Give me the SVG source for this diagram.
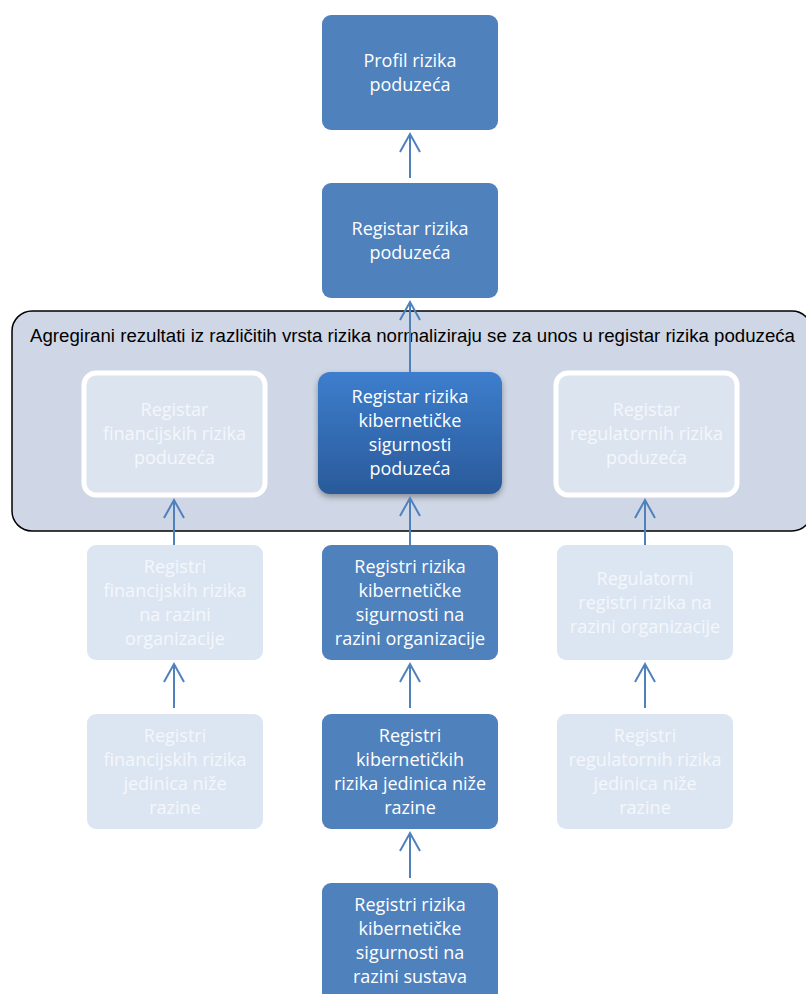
<svg xmlns="http://www.w3.org/2000/svg" width="806" height="994" viewBox="0 0 806 994">
<defs>
<style>
.solid{fill:#4F81BD}
.faded{fill:#DCE6F2}
.t{font-family:"Open Sans","Noto Sans",sans-serif;font-size:18px;text-anchor:middle;fill:#FFFFFF}
.tf{font-family:"Open Sans","Noto Sans",sans-serif;font-size:18px;text-anchor:middle;fill:#F4F7FB}
.c{stroke:#4F81BD;stroke-width:2;fill:none;marker-end:url(#ah)}
</style>
<marker id="ah" markerUnits="userSpaceOnUse" markerWidth="24" markerHeight="24" viewBox="-20 -12 24 24" refX="0" refY="0" orient="auto">
<path d="M-18,-10 L0,0 L-18,10" fill="none" stroke="#4F81BD" stroke-width="2"/>
</marker>
<linearGradient id="g" x1="0" y1="0" x2="0" y2="1">
<stop offset="0" stop-color="#3D7ECD"/>
<stop offset="1" stop-color="#2A5A9A"/>
</linearGradient>
<filter id="sh" x="-20%" y="-20%" width="140%" height="150%">
<feDropShadow dx="0" dy="3" stdDeviation="3" flood-color="#000" flood-opacity="0.35"/>
</filter>
</defs>
<rect width="806" height="994" fill="#FFFFFF"/>

<g id="container">
<rect x="12" y="311" width="800" height="220" rx="20" fill="#CFD7E6" stroke="#000" stroke-width="1.5"/>
<text x="30" y="342" font-family="Liberation Sans, Arial, sans-serif" font-size="18" textLength="765" lengthAdjust="spacingAndGlyphs" fill="#000">Agregirani rezultati iz različitih vrsta rizika normaliziraju se za unos u registar rizika poduzeća</text>
</g>

<g id="profil">
<rect class="solid" x="322" y="15" width="176" height="115" rx="9"/>
<text class="t" x="410" y="67">Profil rizika</text>
<text class="t" x="410" y="91">poduzeća</text>
</g>

<g id="registar">
<rect class="solid" x="322" y="183" width="176" height="115" rx="9"/>
<text class="t" x="410" y="235">Registar rizika</text>
<text class="t" x="410" y="259">poduzeća</text>
</g>

<g id="fin-poduzeca">
<rect x="84" y="373" width="181" height="122" rx="12" fill="#DCE4F0" stroke="#FFFFFF" stroke-width="5"/>
<text class="tf" x="174.5" y="416">Registar</text>
<text class="tf" x="174.5" y="440">financijskih rizika</text>
<text class="tf" x="174.5" y="464">poduzeća</text>
</g>

<g id="kib-poduzeca">
<rect x="318" y="372" width="184" height="122" rx="12" fill="url(#g)" filter="url(#sh)"/>
<text class="t" x="410" y="403">Registar rizika</text>
<text class="t" x="410" y="427">kibernetičke</text>
<text class="t" x="410" y="451">sigurnosti</text>
<text class="t" x="410" y="475">poduzeća</text>
</g>

<g id="reg-poduzeca">
<rect x="556" y="373" width="181" height="122" rx="12" fill="#DCE4F0" stroke="#FFFFFF" stroke-width="5"/>
<text class="tf" x="646.5" y="416">Registar</text>
<text class="tf" x="646.5" y="440">regulatornih rizika</text>
<text class="tf" x="646.5" y="464">poduzeća</text>
</g>

<g id="fin-org">
<rect class="faded" x="87" y="545" width="176" height="115" rx="9"/>
<text class="tf" x="175" y="573">Registri</text>
<text class="tf" x="175" y="597">financijskih rizika</text>
<text class="tf" x="175" y="621">na razini</text>
<text class="tf" x="175" y="645">organizacije</text>
</g>

<g id="kib-org">
<rect class="solid" x="322" y="545" width="176" height="115" rx="9"/>
<text class="t" x="410" y="573">Registri rizika</text>
<text class="t" x="410" y="597">kibernetičke</text>
<text class="t" x="410" y="621">sigurnosti na</text>
<text class="t" x="410" y="645">razini organizacije</text>
</g>

<g id="reg-org">
<rect class="faded" x="557" y="545" width="176" height="115" rx="9"/>
<text class="tf" x="645" y="585">Regulatorni</text>
<text class="tf" x="645" y="609">registri rizika na</text>
<text class="tf" x="645" y="633">razini organizacije</text>
</g>

<g id="fin-jed">
<rect class="faded" x="87" y="714" width="176" height="115" rx="9"/>
<text class="tf" x="175" y="742">Registri</text>
<text class="tf" x="175" y="766">financijskih rizika</text>
<text class="tf" x="175" y="790">jedinica niže</text>
<text class="tf" x="175" y="814">razine</text>
</g>

<g id="kib-jed">
<rect class="solid" x="322" y="714" width="176" height="115" rx="9"/>
<text class="t" x="410" y="742">Registri</text>
<text class="t" x="410" y="766">kibernetičkih</text>
<text class="t" x="410" y="790">rizika jedinica niže</text>
<text class="t" x="410" y="814">razine</text>
</g>

<g id="reg-jed">
<rect class="faded" x="557" y="714" width="176" height="115" rx="9"/>
<text class="tf" x="645" y="742">Registri</text>
<text class="tf" x="645" y="766">regulatornih rizika</text>
<text class="tf" x="645" y="790">jedinica niže</text>
<text class="tf" x="645" y="814">razine</text>
</g>

<g id="kib-sustav">
<rect class="solid" x="322" y="883" width="176" height="120" rx="9"/>
<text class="t" x="410" y="911">Registri rizika</text>
<text class="t" x="410" y="935">kibernetičke</text>
<text class="t" x="410" y="959">sigurnosti na</text>
<text class="t" x="410" y="983">razini sustava</text>
</g>

<g id="connectors">
<line class="c" x1="410" y1="178" x2="410" y2="134"/>
<line class="c" x1="410" y1="372" x2="410" y2="302"/>
<line class="c" x1="174" y1="545" x2="174" y2="500"/>
<line class="c" x1="410" y1="545" x2="410" y2="498"/>
<line class="c" x1="645" y1="545" x2="645" y2="500"/>
<line class="c" x1="174" y1="708" x2="174" y2="664"/>
<line class="c" x1="410" y1="708" x2="410" y2="664"/>
<line class="c" x1="645" y1="708" x2="645" y2="664"/>
<line class="c" x1="410" y1="878" x2="410" y2="833"/>
</g>
</svg>
